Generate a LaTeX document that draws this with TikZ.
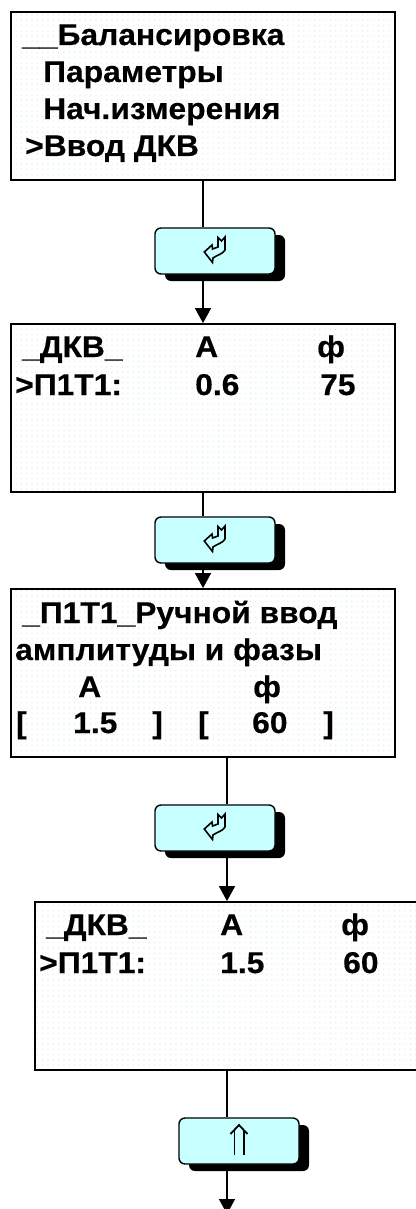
\documentclass[tikz,border=0pt]{standalone}
\usepackage{fontspec}
\setmainfont[BoldFeatures={FakeStretch=1.06,FakeBold=0.35}]{Liberation Sans}
\usetikzlibrary{arrows.meta,patterns.meta}
\definecolor{keycolor}{HTML}{C8FFFF}
\definecolor{dotcolor}{HTML}{C4F5C4}
\tikzset{
  screen/.style={draw,line width=1.8pt,preaction={fill=white},
    pattern={Dots[radius=0.6pt,distance=5.33pt]},pattern color=dotcolor,
    minimum width=384pt,minimum height=168pt,inner sep=0pt},
  keybtn/.style={draw,line width=1.4pt,fill=keycolor,rounded corners=6pt,
    minimum width=120pt,minimum height=46pt,inner sep=0pt},
  keyshade/.style={fill=black,rounded corners=6pt,
    minimum width=120pt,minimum height=46pt,inner sep=0pt},
  txt/.style={anchor=base west,inner sep=0pt,font=\bfseries\fontsize{30}{30}\selectfont},
  wire/.style={line width=1.5pt},
  arrowwire/.style={line width=1.5pt,-{Triangle[width=16pt,length=15pt]}},
  enterkey/.pic={
    \draw[line width=1.6pt,line join=miter,fill=keycolor] (-10.7,1) -- (-3,-6) -- (-2.5,-2) -- (3,-4) -- (3,-13.5)
      -- (6.5,-10) -- (10,-14) -- (10,-1) .. controls (8,3) and (2,4) .. (-2,7) -- (-2.5,11.5) -- cycle;
  },
  upkey/.pic={
    \draw[line width=1.8pt] (-8.5,-7) -- (0,-16) -- (8.5,-7);
    \draw[line width=1.8pt] (-4.6,-11) -- (-4.6,14);
    \draw[line width=1.8pt] (4.6,-11) -- (4.6,14);
  }
}
\begin{document}
\begin{tikzpicture}[x=1pt,y=-1pt]
  \useasboundingbox (0,0) rectangle (415,1209);
  % screens
  \node[screen] (box1) at (203,96) {};
  \node[screen] (box2) at (203,408) {};
  \node[screen] (box3) at (203,673) {};
  \node[screen] (box4) at (227,986) {};
  % keys
  \node[keyshade] (shade1) at (225,258) {};
  \node[keyshade] (shade2) at (225,547) {};
  \node[keyshade] (shade3) at (225,835) {};
  \node[keyshade] (shade4) at (249,1148) {};
  \node[keybtn] (btn1) at (215,251) {};
  \node[keybtn] (btn2) at (215,540) {};
  \node[keybtn] (btn3) at (215,828) {};
  \node[keybtn] (btn4) at (239,1141) {};
  \pic at (btn1.center) {enterkey};
  \pic at (btn2.center) {enterkey};
  \pic at (btn3.center) {enterkey};
  \pic at (btn4.center) {upkey};
  % connectors
  \coordinate (end4) at (227,1214);
  \draw[wire] (box1.south) -- ([xshift=-12pt]btn1.north);
  \draw[arrowwire] ([xshift=-12pt]btn1.south) -- (box2.north);
  \draw[wire] (box2.south) -- ([xshift=-12pt]btn2.north);
  \draw[arrowwire] ([xshift=-12pt]btn2.south) -- (box3.north);
  \draw[wire] ([xshift=24pt]box3.south) -- ([xshift=12pt]btn3.north);
  \draw[arrowwire] ([xshift=12pt]btn3.south) -- (box4.north);
  \draw[wire] (box4.south) -- ([xshift=-12pt]btn4.north);
  \draw[arrowwire] ([xshift=-12pt]btn4.south) -- (end4);
  % box1 text
  \node[txt] (m1) at (22,45) {\_\_Балансировка};
  \node[txt] (m2) at (43,82) {Параметры};
  \node[txt] (m3) at (43,119) {Нач.измерения};
  \node[txt] (m4) at (25,156) {>Ввод ДКВ};
  % box2 text
  \node[txt] (a1) at (22,357) {\_ДКВ\_};
  \node[txt] (a2) at (195,357) {А};
  \node[txt] (a3) at (317,357) {ф};
  \node[txt] (a4) at (15,395) {>П1Т1:};
  \node[txt] (a5) at (195,395) {0.6};
  \node[txt] (a6) at (320,395) {75};
  % box3 text
  \node[txt] (r1) at (22,623) {\_П1Т1\_Ручной ввод};
  \node[txt] (r2) at (15,660) {амплитуды и фазы};
  \node[txt] (r3) at (78,697) {А};
  \node[txt] (r4) at (253,697) {ф};
  \node[txt] (r5) at (16,733) {[};
  \node[txt] (r6) at (73,733) {1.5};
  \node[txt] (r7) at (152,733) {]};
  \node[txt] (r8) at (198,733) {[};
  \node[txt] (r9) at (252,733) {60};
  \node[txt] (r10) at (323,733) {]};
  % box4 text
  \node[txt] (b1) at (46,935) {\_ДКВ\_};
  \node[txt] (b2) at (220,935) {А};
  \node[txt] (b3) at (341,935) {ф};
  \node[txt] (b4) at (39,973) {>П1Т1:};
  \node[txt] (b5) at (220,973) {1.5};
  \node[txt] (b6) at (343,973) {60};
\end{tikzpicture}
\end{document}
